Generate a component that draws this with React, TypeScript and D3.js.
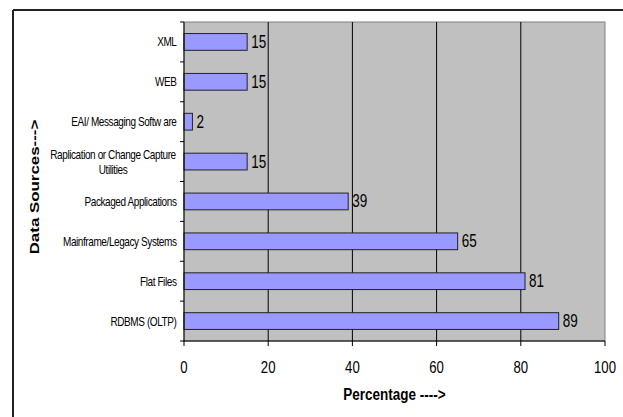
import React from "react";
import * as d3 from "d3";

const categories = [
  "XML",
  "WEB",
  "EAI/ Messaging Softw are",
  "Raplication or Change Capture|Utilities",
  "Packaged Applications",
  "Mainframe/Legacy Systems",
  "Flat Files",
  "RDBMS (OLTP)",
];
const values = [15, 15, 2, 15, 39, 65, 81, 89];
const xTicks = [0, 20, 40, 60, 80, 100];
const xTitle = "Percentage ---->";
const yTitle = "Data Sources--->";

function T(props: { x: number; y: number; sy: number; children: React.ReactNode; [k: string]: any }) {
  const { x, y, sy, children, ...rest } = props;
  return (
    <text transform={`translate(${x},${y}) scale(1,${sy})`} {...rest}>
      {children}
    </text>
  );
}

export default function App() {
  const W = 623, H = 417;
  const left = 184, right = 605, top = 22, bottom = 341;
  const x = d3.scaleLinear().domain([0, 100]).range([left, right]);
  const y = d3.scaleBand<string>().domain(categories).range([top, bottom]).paddingInner(0.58).paddingOuter(0.29);
  const step = y.step();
  const font = "Arial, 'Liberation Sans', sans-serif";
  return (
    <svg width={W} height={H} style={{ position: "absolute", left: 0, top: 0, background: "#fff" }} fontFamily={font}>
      {/* outer frame */}
      <line x1={13} y1={10} x2={W} y2={10} stroke="#222" strokeWidth={2} />
      <line x1={13} y1={10} x2={13} y2={H} stroke="#222" strokeWidth={2} />
      {/* plot area */}
      <rect x={left} y={top} width={right - left} height={bottom - top} fill="#C0C0C0" stroke="#808080" strokeWidth={1} />
      {xTicks.filter((t) => t > 0 && t < 100).map((t) => (
        <line key={t} x1={x(t)} x2={x(t)} y1={top} y2={bottom} stroke="#000" strokeWidth={1} />
      ))}
      {/* bars */}
      {categories.map((c, i) => (
        <g key={c}>
          <rect x={x(0)} y={y(c)!} width={x(values[i]) - x(0)} height={y.bandwidth()} fill="#9999FF" stroke="#222" strokeWidth={1} />
          <T x={x(values[i]) + 4} y={y(c)! + y.bandwidth() / 2 + 6} sy={1.3} fontSize={13.5} fill="#000">{values[i]}</T>
        </g>
      ))}
      {/* axes */}
      <line x1={left} x2={left} y1={top} y2={bottom + 1} stroke="#000" strokeWidth={1} />
      <line x1={left} x2={right} y1={bottom} y2={bottom} stroke="#000" strokeWidth={1} />
      {xTicks.map((t) => (
        <g key={t}>
          <line x1={x(t)} x2={x(t)} y1={bottom} y2={bottom + 5} stroke="#000" />
          <T x={x(t)} y={372.7} sy={1.18} fontSize={13.2} textAnchor="middle">{t}</T>
        </g>
      ))}
      {d3.range(categories.length + 1).map((i) => (
        <line key={i} x1={left - 4} x2={left} y1={top + i * step} y2={top + i * step} stroke="#000" />
      ))}
      {categories.map((c) => {
        const lines = c.split("|");
        const cy = y(c)! + y.bandwidth() / 2;
        if (lines.length === 1) {
          return (
            <T key={c} x={176.5} y={cy + 4.5} sy={1.25} fontSize={10} textAnchor="end" letterSpacing={-0.4}>{c}</T>
          );
        }
        return (
          <g key={c}>
            {lines.map((l, k) => (
              <T key={k} x={113} y={cy - 3 + k * 15} sy={1.25} fontSize={10} textAnchor="middle" letterSpacing={-0.4}>{l}</T>
            ))}
          </g>
        );
      })}
      <T x={(left + right) / 2} y={400} sy={1.2} fontSize={13.5} fontWeight="bold" textAnchor="middle">{xTitle}</T>
      <text transform={`translate(39,187) rotate(-90) scale(1.3,1)`} fontSize={13} fontWeight="bold" textAnchor="middle">{yTitle}</text>
    </svg>
  );
}
